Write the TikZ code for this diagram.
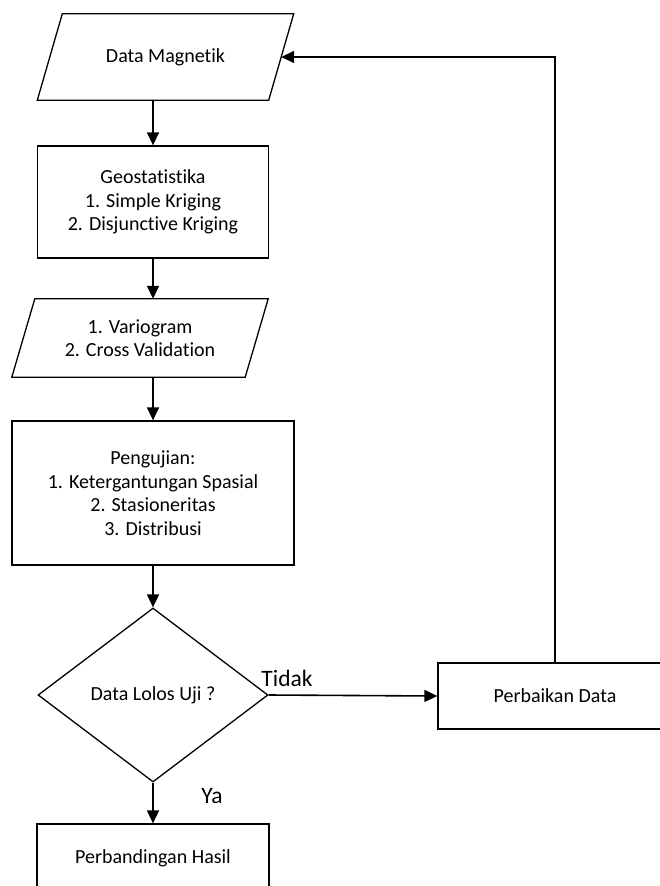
\documentclass[tikz,border=0pt]{standalone}
\usepackage{fontspec}
\setmainfont{Carlito}[Ligatures={NoCommon}]
\usetikzlibrary{arrows.meta,shapes.geometric,calc}

\begin{document}
\begin{tikzpicture}[x=1pt,y=-1pt,
  box/.style={draw,line width=1.3pt,align=center,inner sep=0pt,font=\fontsize{20}{23.5}\selectfont},
  iotext/.style={align=center,inner sep=0pt,font=\fontsize{20}{23.5}\selectfont},
  iobox/.style={line width=1.3pt,line join=miter},
  arr/.style={-{Triangle[length=13pt,width=12pt]},line width=1.6pt},
  lbl/.style={font=\fontsize{23.5}{26}\selectfont,inner sep=0pt}]
\useasboundingbox[fill=white] (0,0) rectangle (659,886);
% main column
\node[iotext,minimum width=231pt,minimum height=86pt] (dm) at (165.5,57) {Data Magnetik};
\draw[iobox] ($(dm.south west)+(-12.5,0)$) -- ($(dm.north west)+(12.5,0)$) -- ($(dm.north east)+(12.5,0)$) -- ($(dm.south east)+(-12.5,0)$) -- cycle;
\node[box,minimum width=231pt,minimum height=112pt] (geo) at (153,202) {Geostatistika\\1. Simple Kriging\\2. Disjunctive Kriging};
\node[iotext,minimum width=233pt,minimum height=78pt] (var) at (140,338) {1. Variogram\\2. Cross Validation};
\draw[iobox] ($(var.south west)+(-11.5,0)$) -- ($(var.north west)+(11.5,0)$) -- ($(var.north east)+(11.5,0)$) -- ($(var.south east)+(-11.5,0)$) -- cycle;
\node[box,minimum width=282pt,minimum height=144pt] (uji) at (153,493) {Pengujian:\\1. Ketergantungan Spasial\\2. Stasioneritas\\3. Distribusi};
\node[box,diamond,minimum width=230pt,minimum height=174pt] (dec) at (153,695) {Data Lolos Uji ?};
\node[box,minimum width=232pt,minimum height=68pt] (res) at (153,858) {Perbandingan Hasil};
% side branch
\node[box,minimum width=234pt,minimum height=66pt] (fix) at (555,696) {Perbaikan Data};
\node[lbl] (no) at (287,678) {Tidak};
\node[lbl] (yes) at (212,796) {Ya};
% connectors
\draw[arr] (geo.north |- dm.south) -- (geo.north);
\draw[arr] (geo.south) -- (geo.south |- var.north);
\draw[arr] (uji.north |- var.south) -- (uji.north);
\draw[arr] (uji.south) -- (dec.north);
\draw[arr] (dec.east) -- (fix.west);
\draw[arr] (dec.south) -- (res.north);
\draw[arr] (fix.north) |- (dm.east);
\end{tikzpicture}
\end{document}
